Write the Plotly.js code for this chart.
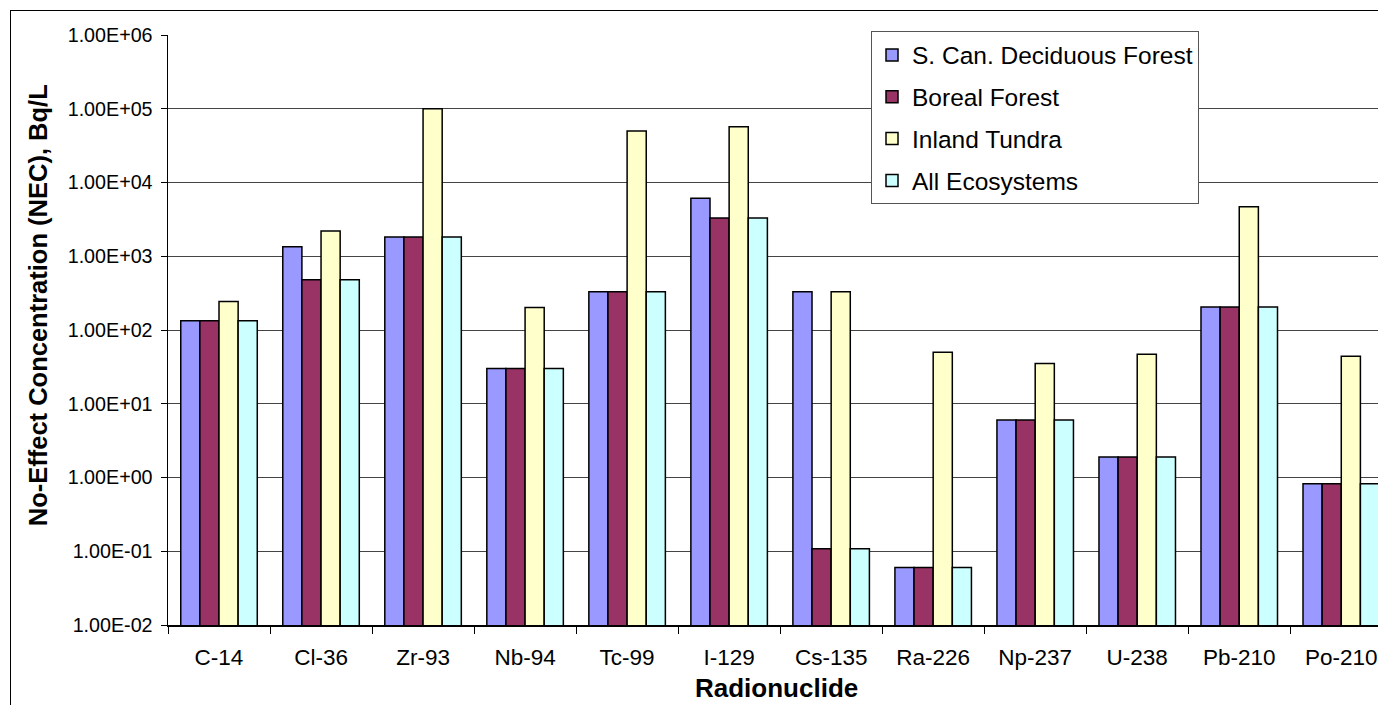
<!DOCTYPE html>
<html>
<head>
<meta charset="utf-8">
<script src="https://cdn.plot.ly/plotly-3.0.1.min.js"></script>
<style>
html,body{margin:0;padding:0;overflow:hidden;background:#fff;}
#frame{position:absolute;left:10px;top:10px;width:1400px;height:800px;border-left:1px solid #000;border-top:1px solid #000;pointer-events:none;z-index:5;}
#chart{width:1378px;height:705px;}
</style>
</head>
<body>
<div id="frame"></div>
<div id="chart"></div>
<script>
const categories = ["C-14","Cl-36","Zr-93","Nb-94","Tc-99","I-129","Cs-135","Ra-226","Np-237","U-238","Pb-210","Po-210"];
const seriesNames = ["S. Can. Deciduous Forest","Boreal Forest","Inland Tundra","All Ecosystems"];
const deciduous = [134, 1350, 1820, 30, 331, 6100, 331, 0.06, 6.0, 1.9, 205, 0.82];
const boreal    = [134, 480, 1820, 30, 331, 3300, 0.108, 0.06, 6.0, 1.9, 205, 0.82];
const tundra    = [244, 2200, 100000, 202, 50000, 57000, 331, 50, 35, 47, 4700, 44];
const allEco    = [134, 480, 1820, 30, 331, 3300, 0.108, 0.06, 6.0, 1.9, 205, 0.82];
const colors = ["#9999FF","#993366","#FFFFCC","#CCFFFF"];
const yTickVals = [1e-2,1e-1,1e0,1e1,1e2,1e3,1e4,1e5,1e6];
const yTickText = ["1.00E-02","1.00E-01","1.00E+00","1.00E+01","1.00E+02","1.00E+03","1.00E+04","1.00E+05","1.00E+06"];
const xTitle = "Radionuclide";
const yTitle = "No-Effect Concentration (NEC), Bq/L";

const seriesVals = [deciduous, boreal, tundra, allEco];
const traces = seriesVals.map((v,i)=>({
  type:'bar', x:categories, y:v, name:seriesNames[i], legendgroup:'g'+i,
  marker:{color:colors[i], line:{color:'#000', width:1.5}}
}));

const font = "Liberation Sans, Arial, sans-serif";
const layout = {
  width:1378, height:705,
  margin:{l:168, r:0, t:35, b:80},
  paper_bgcolor:'#fff', plot_bgcolor:'#fff',
  font:{family:font, color:'#000', size:19},
  barmode:'group', bargap:0.25, bargroupgap:0,
  showlegend:true,
  legend:{x:0.581, y:1.006, xanchor:'left', yanchor:'top',
    bordercolor:'#555', borderwidth:1, bgcolor:'#fff',
    font:{family:font, size:24.5, color:'#000'},
    traceorder:'grouped', tracegroupgap:7},
  xaxis:{type:'category', range:[-0.5, 11.36], tickson:'boundaries', ticks:'outside', ticklen:7,
    tickcolor:'#000', showline:true, linecolor:'#000', linewidth:2, showgrid:false,
    tickfont:{family:font, size:22.5}, ticklabelstandoff:11},
  yaxis:{type:'log', range:[-2,6], tickvals:yTickVals, ticktext:yTickText,
    ticks:'outside', ticklen:6, tickcolor:'#000', showline:true, linecolor:'#000', linewidth:1.5,
    showgrid:true, gridcolor:'#444', gridwidth:1, zeroline:false,
    tickfont:{family:font, size:19.7}, ticklabelstandoff:4},
  annotations:[
    {text:'<b>'+xTitle+'</b>', xref:'paper', yref:'paper', x:0.5025, y:-0.1068,
     xanchor:'center', yanchor:'middle', showarrow:false, font:{family:font, size:26}},
    {text:'<b>'+yTitle+'</b>', xref:'paper', yref:'paper', x:-0.1074, y:0.542, textangle:-90,
     xanchor:'center', yanchor:'middle', showarrow:false, font:{family:font, size:25.5}}
  ]
};
Plotly.newPlot('chart', traces, layout, {displayModeBar:false, staticPlot:true});
</script>
</body>
</html>
